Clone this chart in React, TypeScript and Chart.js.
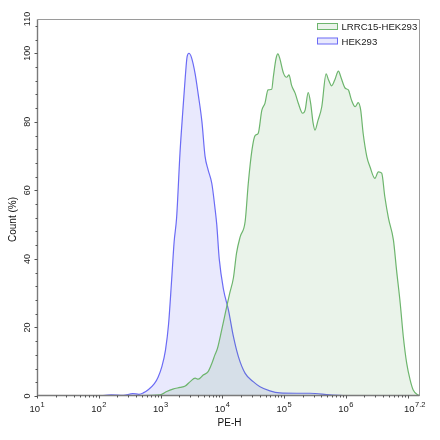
import { useEffect, useRef } from 'react'
import { Chart, registerables } from 'chart.js'

Chart.register(...registerables)

// x values are log10(PE-H), y values are Count (%)
const lrrcLogX = [2.2, 2.6, 2.99, 3.1, 3.2, 3.315, 3.4, 3.48, 3.56, 3.61, 3.69, 3.77, 3.83, 3.88, 3.92, 3.99, 4.07, 4.12, 4.18, 4.23, 4.29, 4.37, 4.42, 4.48, 4.53, 4.58, 4.64, 4.69, 4.74, 4.8, 4.825, 4.87, 4.9, 4.93, 4.99, 5.04, 5.08, 5.12, 5.18, 5.23, 5.3, 5.34, 5.39, 5.43, 5.47, 5.5, 5.55, 5.61, 5.68, 5.72, 5.77, 5.82, 5.88, 5.92, 5.99, 6.04, 6.09, 6.15, 6.2, 6.24, 6.28, 6.34, 6.39, 6.47, 6.525, 6.58, 6.63, 6.69, 6.77, 6.82, 6.88, 6.93, 6.985, 7.04, 7.09, 7.17, 7.2]
const lrrcCount = [0, 0.1, 0.3, 1.3, 2.0, 2.5, 2.9, 4.2, 5.2, 4.9, 6.1, 7.1, 9.5, 12, 13.8, 19.3, 26, 30, 34.5, 41.7, 46.5, 51, 62, 71.8, 76, 76.6, 83.4, 85.4, 89.3, 89.5, 93, 98.5, 99.8, 98.5, 94.2, 93, 93.7, 90.7, 88.3, 85.4, 82.5, 83.4, 88.5, 85.4, 79.6, 77.6, 80.5, 84.4, 94, 92.2, 90.5, 92.2, 94.8, 93, 89.8, 89.3, 86.4, 84.4, 85.6, 83.4, 76.6, 69.8, 66.9, 63.5, 65.4, 65, 58.2, 51.8, 45.5, 36.8, 27, 17.3, 9.5, 4.7, 1.75, 0.3, 0]

const hekLogX = [2.0, 2.2, 2.4, 2.55, 2.65, 2.72, 2.8, 2.9, 2.96, 3.02, 3.08, 3.13, 3.18, 3.22, 3.26, 3.315, 3.36, 3.4, 3.43, 3.46, 3.5, 3.56, 3.61, 3.67, 3.72, 3.77, 3.83, 3.88, 3.91, 3.95, 4.02, 4.1, 4.18, 4.26, 4.37, 4.5, 4.61, 4.77, 4.93, 5.2, 5.42, 5.74, 6.07]
const hekCount = [0, 0.3, 0.2, 0.7, 0.5, 0.9, 1.8, 3.6, 5.5, 8.5, 13.4, 21, 34, 45, 52, 71, 83, 93, 99, 100, 98.8, 94, 88, 80, 70, 66, 62, 55, 50, 40, 31, 25, 17.3, 11.5, 6.6, 4.2, 2.7, 1.5, 0.9, 0.8, 0.8, 0.3, 0]

const xTickExps = [1, 2, 3, 4, 5, 6, 7.2]
const xTickLabels = ['1', '2', '3', '4', '5', '6', '7.2']
const yTicks = [0, 20, 40, 60, 80, 100, 110]

const seriesNames = ['LRRC15-HEK293', 'HEK293']
const lineColors = ['#6db56d', '#6b6bf5']
const fillColors = ['rgba(60, 150, 60, 0.11)', 'rgba(100, 100, 240, 0.14)']

const FONT = '"Liberation Sans", Arial, sans-serif'

const flowAxes = {
  id: 'flowAxes',
  afterDatasetsDraw(chart: Chart) {
    const { ctx, chartArea: a } = chart
    const x = chart.scales.x
    const y = chart.scales.y
    const L = Math.round(a.left) + 0.5
    const R = Math.round(a.right) - 0.5
    const T = Math.round(a.top) + 0.5
    const B = Math.round(a.bottom) - 0.5
    ctx.save()

    // frame
    ctx.lineWidth = 1
    ctx.strokeStyle = '#9a9a9a'
    ctx.beginPath()
    ctx.moveTo(L, T); ctx.lineTo(R, T); ctx.lineTo(R, B)
    ctx.stroke()
    ctx.strokeStyle = '#7a7a7a'
    ctx.lineWidth = 1.4
    ctx.beginPath()
    ctx.moveTo(L, T); ctx.lineTo(L, B); ctx.lineTo(R, B)
    ctx.stroke()

    // x ticks (major + log minor)
    ctx.strokeStyle = '#555'
    ctx.lineWidth = 1
    ctx.beginPath()
    for (let n = 1; n <= 7; n++) {
      const px = Math.round(x.getPixelForValue(n)) + 0.5
      ctx.moveTo(px, B); ctx.lineTo(px, B + 3)
      for (let k = 2; k <= 9; k++) {
        const e = n + Math.log10(k)
        if (e > 7.2) break
        const mx = Math.round(x.getPixelForValue(e)) + 0.5
        ctx.moveTo(mx, B); ctx.lineTo(mx, B + 2)
      }
    }
    // y ticks
    for (let v = 0; v <= 110; v += 4) {
      const py = Math.round(y.getPixelForValue(v)) + 0.5
      const len = v % 20 === 0 ? 3 : 2
      ctx.moveTo(L, py); ctx.lineTo(L - len, py)
    }
    ctx.stroke()

    // x tick labels 10^n
    ctx.fillStyle = '#222'
    ctx.textBaseline = 'alphabetic'
    ctx.textAlign = 'left'
    xTickExps.forEach((e, i) => {
      const px = x.getPixelForValue(e)
      ctx.font = `9.5px ${FONT}`
      const w1 = ctx.measureText('10').width
      ctx.font = `7.5px ${FONT}`
      const w2 = ctx.measureText(xTickLabels[i]).width
      let start = px - (w1 + w2 + 0.5) / 2
      if (start + w1 + w2 > 425) start = 425 - w1 - w2
      ctx.font = `9.5px ${FONT}`
      ctx.fillText('10', start, 412)
      ctx.font = `7.5px ${FONT}`
      ctx.fillText(xTickLabels[i], start + w1 + 0.5, 407)
    })

    // y tick labels, rotated
    ctx.font = `9px ${FONT}`
    ctx.textAlign = 'center'
    yTicks.forEach(v => {
      const py = y.getPixelForValue(v)
      ctx.save()
      ctx.translate(30, py)
      ctx.rotate(-Math.PI / 2)
      ctx.fillText(String(v), 0, 0)
      ctx.restore()
    })

    // axis titles
    ctx.fillStyle = '#111'
    ctx.font = `10px ${FONT}`
    ctx.fillText('PE-H', (a.left + a.right) / 2 + 1, 426)
    ctx.save()
    ctx.translate(16, 219.5)
    ctx.rotate(-Math.PI / 2)
    ctx.fillText('Count (%)', 0, 0)
    ctx.restore()

    // legend
    ctx.textAlign = 'left'
    ctx.lineWidth = 1
    ctx.font = `9.6px ${FONT}`
    seriesNames.forEach((name, i) => {
      const top = 23.5 + i * 14.5
      ctx.fillStyle = fillColors[i]
      ctx.fillRect(317.5, top, 20, 6)
      ctx.strokeStyle = lineColors[i]
      ctx.strokeRect(317.5, top, 20, 6)
      ctx.fillStyle = '#1a1a1a'
      ctx.fillText(name, 341.5, top + 6.5)
    })

    ctx.restore()
  },
}

const FlowHistogram = () => {
  const canvasRef = useRef<HTMLCanvasElement>(null)
  const chartRef = useRef<Chart | null>(null)

  useEffect(() => {
    if (!canvasRef.current) return
    if (chartRef.current) chartRef.current.destroy()

    chartRef.current = new Chart(canvasRef.current, {
      type: 'line',
      data: {
        datasets: [
          {
            label: seriesNames[0],
            data: lrrcLogX.map((e, i) => ({ x: e, y: lrrcCount[i] })),
            borderColor: lineColors[0],
            backgroundColor: fillColors[0],
            borderWidth: 1.2,
            fill: 'origin',
          },
          {
            label: seriesNames[1],
            data: hekLogX.map((e, i) => ({ x: e, y: hekCount[i] })),
            borderColor: lineColors[1],
            backgroundColor: fillColors[1],
            borderWidth: 1.2,
            fill: 'origin',
          },
        ],
      },
      options: {
        responsive: false,
        animation: false,
        elements: {
          point: { radius: 0 },
          line: { cubicInterpolationMode: 'monotone' },
        },
        layout: { padding: { left: 37, top: 19, right: 20, bottom: 44 } },
        scales: {
          x: { type: 'linear', min: 1, max: 7.2, display: false },
          y: { min: 0, max: 110, display: false },
        },
        plugins: {
          legend: { display: false },
          tooltip: { enabled: false },
        },
      },
      plugins: [flowAxes],
    })

    return () => {
      chartRef.current?.destroy()
      chartRef.current = null
    }
  }, [])

  return (
    <div style={{ position: 'absolute', left: 0, top: 0, width: 440, height: 440, background: '#fff' }}>
      <canvas ref={canvasRef} width={440} height={440} style={{ display: 'block' }} />
    </div>
  )
}

export default function App() {
  return <FlowHistogram />
}
